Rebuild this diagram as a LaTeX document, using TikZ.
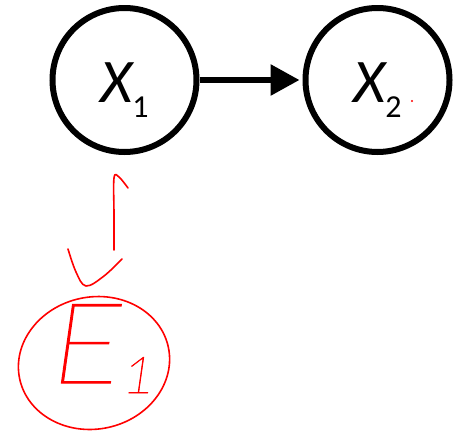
\documentclass[tikz,border=0pt]{standalone}
\usepackage{fontspec}
\usepackage{tikz}
\usetikzlibrary{arrows.meta,positioning}
\newfontfamily\calibri{Carlito}
\newfontfamily\handfont{Lato Hairline Italic}[FakeBold=1.2, FakeStretch=1.15]

\begin{document}
\begin{tikzpicture}[
  x=1pt, y=1pt,
  var/.style={draw, circle, line width=6pt, minimum size=144pt, inner sep=0pt, text height=52pt, text depth=8pt},
  varname/.style={font=\calibri\fontsize{62}{62}\selectfont\itshape},
  flow/.style={-{Triangle[length=29pt,width=30pt]}, line width=6pt, draw=black, shorten >=3pt},
  hand/.style={draw=red, line width=1.6pt, line cap=round, line join=round},
  handtext/.style={text=red, inner sep=0pt, font=\handfont\fontsize{112}{112}\selectfont},
]
\useasboundingbox (0,0) rectangle (457,-434);

% Variables
\node[var, varname] (x1) at (124.5,-80) {X\raisebox{-15pt}{\upshape\fontsize{32}{32}\selectfont 1}};
\node[var, varname, right=103pt of x1] (x2) {X\raisebox{-15pt}{\upshape\fontsize{32}{32}\selectfont 2}};
\fill[red] (412,-101) circle (1.1);

\draw[flow] (x1) -- (x2);

% Hand-written annotation
\node[handtext, anchor=base west] (e1) at (52,-383) {E\raisebox{-10pt}{\fontsize{51}{51}\selectfont 1}};
\coordinate (e1c) at (94,-363);
\draw[hand, rotate around={12:(e1c)}] (e1c) ellipse [x radius=76, y radius=66];

\draw[hand] plot[smooth, tension=0.6] coordinates {(128,-188) (119,-177) (114,-178) (114,-215) (114,-250)};
\draw[hand] plot[smooth, tension=0.6] coordinates {(68,-249) (76,-272) (86,-286) (104,-276) (122,-259)};

\end{tikzpicture}
\end{document}
